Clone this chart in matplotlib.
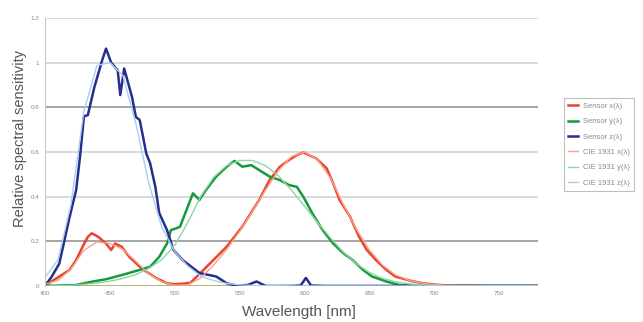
import matplotlib.pyplot as plt
import numpy as np

plt.rcParams['font.family'] = ['Liberation Sans', 'DejaVu Sans']

# CIE 1931 curves as drawn (scaled), every 10 nm
cie_wl = [400, 410, 420, 430, 440, 450, 460, 470, 480, 490, 500, 510, 520, 530,
          540, 550, 560, 570, 580, 590, 600, 610, 620, 630, 640, 650, 660, 670,
          680, 690, 700, 710, 720, 730, 740, 750, 760, 770, 780]
cie_x = [0.008, 0.025, 0.076, 0.160, 0.197, 0.190, 0.164, 0.110, 0.054, 0.018,
         0.003, 0.005, 0.036, 0.094, 0.164, 0.245, 0.336, 0.431, 0.518, 0.580,
         0.600, 0.566, 0.483, 0.363, 0.253, 0.160, 0.093, 0.049, 0.026, 0.013,
         0.006, 0.003, 0.002, 0.001, 0.0, 0.0, 0.0, 0.0, 0.0]
cie_y = [0.0, 0.001, 0.002, 0.007, 0.013, 0.021, 0.034, 0.051, 0.079, 0.118,
         0.182, 0.284, 0.401, 0.487, 0.539, 0.562, 0.562, 0.538, 0.492, 0.428,
         0.357, 0.284, 0.215, 0.150, 0.099, 0.060, 0.034, 0.018, 0.010, 0.005,
         0.002, 0.001, 0.0, 0.0, 0.0, 0.0, 0.0, 0.0, 0.0]
cie_z = [0.038, 0.117, 0.365, 0.783, 0.987, 1.001, 0.943, 0.727, 0.459, 0.263,
         0.154, 0.089, 0.044, 0.024, 0.011, 0.005, 0.002, 0.001, 0.001, 0.0,
         0.0, 0.0, 0.0, 0.0, 0.0, 0.0, 0.0, 0.0, 0.0, 0.0, 0.0, 0.0, 0.0, 0.0,
         0.0, 0.0, 0.0, 0.0, 0.0]

# Sensor curves
sx_wl = [400, 405, 411, 419, 424, 429, 433, 436, 441, 447, 451, 454, 459, 465, 473,
         478, 486, 494, 500, 506, 512, 517, 527, 540, 552, 565, 573, 581, 588,
         594, 599, 609, 617, 622, 627, 635, 642, 648, 655, 663, 670, 681, 691,
         704, 720, 740, 760, 780]
sx = [0.0, 0.02, 0.042, 0.072, 0.116, 0.176, 0.22, 0.236, 0.22, 0.19, 0.161, 0.19,
      0.176, 0.13, 0.086, 0.064, 0.034, 0.012, 0.008, 0.01, 0.014, 0.042, 0.10,
      0.176, 0.265, 0.385, 0.474, 0.534, 0.564, 0.586, 0.598, 0.571, 0.527, 0.46,
      0.385, 0.31, 0.22, 0.161, 0.116, 0.072, 0.042, 0.024, 0.012, 0.004, 0.002,
      0.0, 0.0, 0.0]
sy_wl = [400, 424, 437, 447, 460, 473, 481, 488, 494, 497, 501, 504, 509, 514, 519,
         524, 532, 540, 546, 552, 559, 565, 573, 581, 588, 594, 599, 606, 614,
         622, 630, 637, 645, 652, 663, 673, 690, 720, 780]
sy = [0.0, 0.004, 0.02, 0.03, 0.05, 0.072, 0.086, 0.13, 0.19, 0.25, 0.258, 0.265,
      0.34, 0.415, 0.385, 0.43, 0.49, 0.534, 0.56, 0.534, 0.541, 0.519, 0.49,
      0.474, 0.452, 0.444, 0.40, 0.325, 0.25, 0.19, 0.146, 0.116, 0.072, 0.042,
      0.02, 0.004, 0.0, 0.0, 0.0]
sz_wl = [400, 405, 411, 419, 424, 427, 430, 433, 438, 444, 447, 451, 456, 458, 461,
         467, 470, 473, 478, 481, 485, 488, 494, 499, 506, 519, 532, 540, 547,
         556, 563, 570, 590, 597, 601, 605, 615, 780]
sz = [0.0, 0.04, 0.10, 0.31, 0.43, 0.58, 0.76, 0.765, 0.89, 1.01, 1.063, 1.0, 0.966,
      0.855, 0.974, 0.847, 0.757, 0.743, 0.594, 0.549, 0.444, 0.327, 0.25, 0.161,
      0.116, 0.058, 0.042, 0.012, 0.002, 0.004, 0.02, 0.0, 0.0, 0.002, 0.036, 0.002,
      0.0, 0.0]

labels = ['Sensor x(λ)', 'Sensor y(λ)', 'Sensor z(λ)',
          'CIE 1931 x(λ)', 'CIE 1931 y(λ)', 'CIE 1931 z(λ)']
y_ticks = [0, 0.2, 0.4, 0.6, 0.8, 1, 1.2]
x_ticks = [400, 450, 500, 550, 600, 650, 700, 750]

fig = plt.figure(figsize=(6.43, 3.22), dpi=100)
ax = fig.add_axes([0.070, 0.112, 0.767, 0.832])

# horizontal grid lines (some render darker in the original)
for v in y_ticks[1:]:
    c = '#8c8c8c' if v in (0.2, 0.8) else '#d0d0d0'
    ax.axhline(v, color=c, linewidth=1.1, zorder=0)

ax.plot(sx_wl, sx, color='#e8432e', linewidth=1.8, label=labels[0])
ax.plot(sy_wl, sy, color='#179a3c', linewidth=1.8, label=labels[1])
ax.plot(sz_wl, sz, color='#262f8c', linewidth=1.8, label=labels[2])
ax.plot(cie_wl, cie_x, color='#f6a487', linewidth=1.0, label=labels[3])
ax.plot(cie_wl, cie_y, color='#8fd4a8', linewidth=1.0, label=labels[4])
ax.plot(cie_wl, cie_z, color='#a9cdf2', linewidth=1.0, label=labels[5])
ax.axhline(0, color='#a8a84a', linewidth=1.2, zorder=1)

ax.set_xlim(400, 780)
ax.set_ylim(0, 1.2)
ax.set_xticks(x_ticks)
ax.set_yticks(y_ticks)
ax.set_yticklabels(['0', '0.2', '0.4', '0.6', '0.8', '1', '1.2'])
ax.tick_params(labelsize=4.5, colors='#8a8a8a', length=0, pad=4)

for s in ['top', 'right', 'bottom']:
    ax.spines[s].set_visible(False)
ax.spines['left'].set_color('#c8c8c8')

ax.set_xlabel('Wavelength [nm]', fontsize=11, color='#555555', labelpad=5)
ax.xaxis.set_label_coords(0.515, -0.07)
ax.set_ylabel('Relative spectral sensitivity', fontsize=10.5, color='#555555')
ax.yaxis.set_label_coords(-0.036, 0.55)

leg = fig.legend(loc='upper left', bbox_to_anchor=(0.877, 0.696), fontsize=5.5,
                 frameon=True, fancybox=False, handlelength=1.3, labelspacing=1.05,
                 borderpad=0.6, handletextpad=0.6, borderaxespad=0)
leg.get_frame().set_edgecolor('#b0b0b0')
leg.get_frame().set_linewidth(0.8)
for t in leg.get_texts():
    t.set_color('#8a8a8a')

fig.savefig('out.png', dpi=100)
